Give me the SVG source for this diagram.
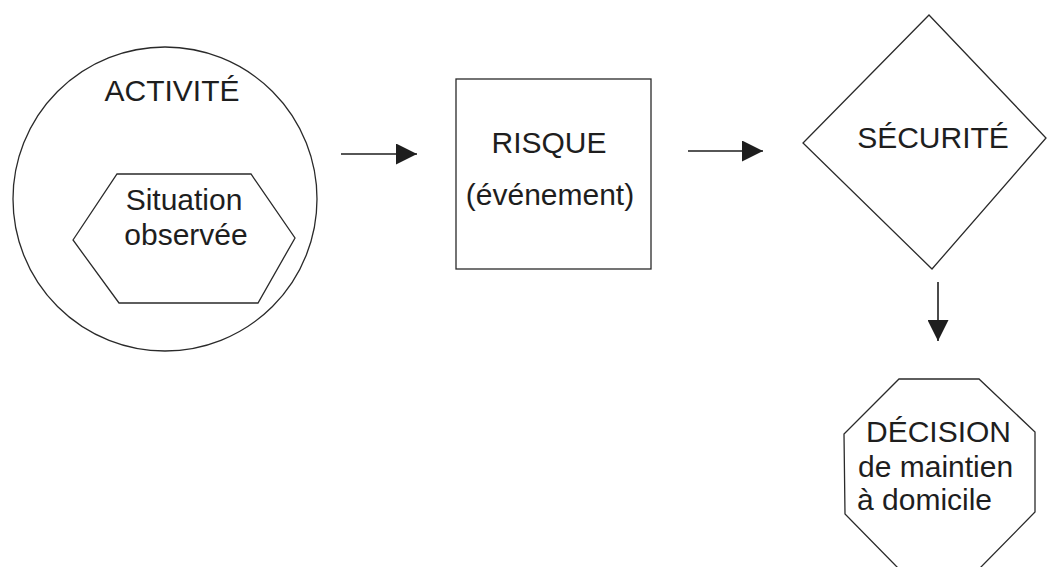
<svg xmlns="http://www.w3.org/2000/svg" width="1048" height="567" viewBox="0 0 1048 567">
<defs>
<style>
.shape{fill:none;stroke:#2a2a2a;stroke-width:1.3}
.lbl{font-family:"Liberation Sans",Arial,sans-serif;font-size:30px;fill:#1e1e1e}
.mid{text-anchor:middle}
.conn{stroke:#1e1e1e;stroke-width:1.6;fill:none}
</style>
<marker id="ah" viewBox="0 0 10 10" refX="10" refY="5" markerWidth="21" markerHeight="21" markerUnits="userSpaceOnUse" orient="auto">
<path d="M0,0 L10,5 L0,10 Z" fill="#1e1e1e"/>
</marker>
</defs>
<rect width="1048" height="567" fill="#ffffff"/>
<g id="activite">
<circle class="shape" cx="165" cy="199" r="152"/>
<text class="lbl mid" x="172" y="101">ACTIVITÉ</text>
</g>
<g id="situation">
<polygon class="shape" points="73,240 117,174 251,174 295,238 258,303 119,303"/>
<text class="lbl mid" x="184" y="210">Situation</text>
<text class="lbl mid" x="186" y="245">observée</text>
</g>
<g id="risque">
<rect class="shape" x="456" y="79" width="195" height="190"/>
<text class="lbl mid" x="549" y="153">RISQUE</text>
<text class="lbl mid" x="550" y="205">(événement)</text>
</g>
<g id="securite">
<polygon class="shape" points="929,15 1046,138 932,269 803,143"/>
<text class="lbl mid" x="933" y="148">SÉCURITÉ</text>
</g>
<g id="decision">
<polygon class="shape" points="899,379 979,379 1035,432 1035,512 979,569 899,569 845,514 844,434"/>
<text class="lbl" x="866" y="442">DÉCISION</text>
<text class="lbl" x="858" y="477">de maintien</text>
<text class="lbl" x="857" y="510">à domicile</text>
</g>
<g id="connectors">
<line class="conn" x1="341" y1="154" x2="417" y2="154" marker-end="url(#ah)"/>
<line class="conn" x1="688" y1="151" x2="763" y2="151" marker-end="url(#ah)"/>
<line class="conn" x1="938" y1="282" x2="938" y2="341" marker-end="url(#ah)"/>
</g>
</svg>
